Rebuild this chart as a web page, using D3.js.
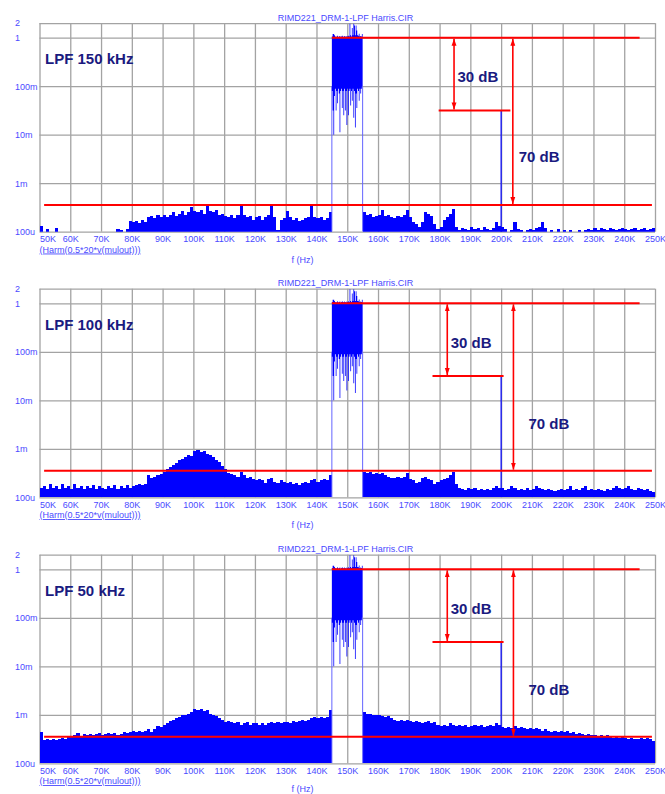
<!DOCTYPE html>
<html>
<head>
<meta charset="utf-8">
<script src="https://cdn.jsdelivr.net/npm/d3@7"></script>
<style>
body { margin: 0; background: #fff; }
text { font-family: "Liberation Sans", Arial, sans-serif; }
</style>
</head>
<body>
<script>
// ---- data (levels in dB re 1 V, frequencies in kHz) ----
var fileTitle = "RIMD221_DRM-1-LPF Harris.CIR";
var traceLabel = "(Harm(0.5*20*v(mulout)))";
var xTitle = "f (Hz)";
var panelNames = ["LPF 150 kHz", "LPF 100 kHz", "LPF 50 kHz"];

var freqTicks = [50,60,70,80,90,100,110,120,130,140,150,160,170,180,190,200,210,220,230,240,250];
var freqTickLabels = ["50K","60K","70K","80K","90K","100K","110K","120K","130K","140K","150K","160K","170K","180K","190K","200K","210K","220K","230K","240K","250K"];
var levelTicks = [2, 1, 0.1, 0.01, 0.001, 0.0001];
var levelTickLabels = ["2", "1", "100m", "10m", "1m", "100u"];

// noise floor, one value per 1 kHz bin: 50K..144K and 155K..249K
var lowStart = 50, highStart = 155;
var p1Low = [-77.5,-85,-79,-85,-85,-78.5,-85,-85,-85,-85,
  -85,-85,-85,-85,-85,-85,-85,-85,-85,-85,
  -85,-85,-85,-85,-85,-79,-79.5,-85,-79,-75.5,
  -76,-75.5,-76.5,-75,-76,-74,-73.5,-74.5,-73,-74,
  -73,-74,-73,-72,-73.5,-72.5,-71.5,-73,-72,-70,
  -71.5,-72,-71,-72.5,-69.5,-71.5,-72,-71,-73,-72.5,
  -73.5,-74,-73,-74.5,-73,-69,-73,-74,-73.5,-75,
  -74,-73.5,-75,-74,-73,-69.2,-74,-79.5,-75,-74.5,
  -71.5,-74,-75,-74.5,-75.5,-75,-74.5,-74,-69,-74,
  -74.5,-74,-75,-74.5,-72];
var p1High = [-72,-73,-72.5,-74,-73.5,
  -73,-71,-73.5,-73,-74,-74.5,-73.5,-74,-73,-71,
  -74,-76,-77,-78,-76,-72,-72.5,-73.5,-77,-79,
  -78,-75,-74,-72.5,-70.5,-78,-79.5,-78.5,-79,-79.5,
  -78,-79,-78.5,-79.5,-78,-79,-79.5,-78.5,-76,-77.5,
  -78,-79,-85,-79.5,-76,-79,-79.5,-85,-79.5,-79,
  -79.5,-78.5,-78,-76,-78.5,-85,-79.5,-85,-79,-85,
  -79.5,-85,-79.5,-85,-85,-79.5,-85,-79.5,-79,-79.5,
  -78.5,-79.5,-78.5,-79,-79.5,-78.5,-79,-79.5,-79,-78.5,
  -79,-79.5,-79,-78.5,-79.5,-79,-78.5,-79.5,-79,-78.5];
var p2Low = [-76,-75.5,-76.5,-74.5,-76,-75.5,-76.5,-74.5,-76,-75.5,
  -76.5,-74.5,-76,-75.5,-76.5,-75.5,-76,-75,-76.5,-75.5,
  -76,-76.5,-75.5,-76,-75,-76.5,-75.5,-76,-75,-76,
  -75.5,-75,-74.5,-75,-74.5,-71,-72,-71.5,-71,-70.5,
  -69.5,-68.5,-67.5,-66.5,-66,-64.5,-64,-63.5,-62.5,-63,
  -61,-60.5,-61.5,-61,-62,-62.5,-63.5,-64.5,-65.5,-67,
  -68.5,-70,-70.5,-71,-71.5,-69.5,-71,-72,-71.5,-72.5,
  -73,-72.5,-73,-74,-72.5,-72,-73.5,-74,-73,-73.5,
  -74,-73.5,-74.5,-74,-75,-74,-73.5,-74,-73,-72.5,
  -73.5,-73,-72.5,-73,-71];
var p2High = [-69.5,-70,-69.5,-70.5,-70,
  -70.5,-70,-71,-71.5,-72,-72,-71.5,-72,-71.5,-70,
  -72.5,-73,-74,-73.5,-72,-71.5,-72.5,-73,-74.5,-73.5,
  -73,-72.5,-72,-71,-69.5,-74.5,-76,-76.5,-77,-76,
  -76.5,-76,-77,-76.5,-77,-76.5,-77,-76,-75.5,-76,
  -76,-77,-76.5,-75.5,-76,-77,-76.5,-77,-76,-77,
  -76.5,-75.5,-76,-76.5,-77,-76.5,-77,-77.5,-77,-76.5,
  -77,-76.5,-75.5,-77,-76.5,-77,-76,-75.5,-77,-76.5,
  -77,-76.5,-77,-77.5,-76.5,-77,-76,-75.5,-76,-76.5,
  -76,-75.5,-76.5,-77,-76,-76.5,-77,-76.5,-77.5,-78];
var p3Low = [-67,-70.5,-70,-70.5,-70,-70.5,-70,-69.5,-70,-69,
  -69,-68.5,-67.5,-69,-68,-68.5,-68,-68.5,-68,-67.5,
  -68.5,-68,-67.5,-68,-67.5,-68.5,-68,-67,-67.5,-67,
  -66.5,-67,-66.5,-67,-66.5,-66,-67,-66,-64.5,-65,
  -64,-63.5,-62.5,-62,-61.5,-61,-60,-60,-59.5,-59,
  -57.5,-58,-57.5,-58.5,-58,-59.5,-60,-60.5,-61.5,-62,
  -63,-62.5,-63,-63.5,-63,-64,-63.5,-63,-64,-63.5,
  -63.5,-64,-63.5,-64,-63.5,-63,-63.5,-63,-63.5,-63,
  -63,-63.5,-62.5,-63,-62.5,-62,-62.5,-62,-61.5,-61,
  -61.5,-61,-61.5,-61,-58];
var p3High = [-59,-59.5,-59.5,-60,-60,
  -60,-60.5,-61,-60.5,-61.5,-62,-62.5,-62,-62.5,-62,
  -62.5,-63,-62.5,-63,-63.5,-63,-62.5,-63.5,-63,-64,
  -64.5,-64,-64.5,-63.5,-64,-64.5,-64,-64.5,-64,-65,
  -64.5,-64,-64.5,-64,-65,-64.5,-64,-64.5,-63.5,-64,
  -65,-65.5,-65,-65.5,-64.5,-65.5,-65,-65.5,-66,-65.5,
  -66,-65.5,-66,-66.5,-66,-66.5,-67,-66.5,-67,-66.5,
  -67,-66.5,-67.5,-67,-68,-67.5,-68,-68.5,-68,-68.5,
  -68.5,-69,-68.5,-69,-68.5,-69,-69.5,-69,-69.5,-69,
  -69.5,-70,-69.5,-70,-70,-69.5,-70,-69.5,-70,-71];
var noiseLow = [p1Low, p2Low, p3Low];
var noiseHigh = [p1High, p2High, p3High];

// DRM block 145K..155K, 0.25 kHz bins: upper and lower envelope
var blockStart = 145, blockStep = 0.25;
var blockHi = [0.5,1.5,1.5,1,0.5,0,0.5,0.8,0.2,0.5,0.7,0.1,0.5,0.8,0.5,0.3,0.7,0.5,0.2,0.7,
  0.5,0.8,0.5,5.8,1,0.5,4,1,5.8,5,1,5,3,1,0.8,1.6,0.5,0.7,0.5,1.5];
var blockLo = [-22,-30,-40,-24,-21,-30,-22,-27,-21,-23,-39,-22,-21,-29,-22,-32,-21,-30,-22,-36,
  -21,-32,-22,-21,-28,-22,-26,-21,-33,-22,-37,-23,-29,-21,-22,-26,-21,-23,-21,-20];
var blockEdges = [145, 155];

// single tone at 200K
var toneFreq = 200;
var toneDb = [-30, -30, -30];

// red reference annotations
var refTopDb = 0, refFloorDb = -69, refToneDb = -30;
var refTopSpan = [145, 245];
var refFloorSpan = [51.5, 249];
var arrow30At = [184.7, 182.5, 182.5];
var toneRefSpan = [[179.7, 203], [177.7, 200.8], [177.7, 200.8]];
var arrow70At = [203.8, 204, 204];
var label30 = "30 dB", label70 = "70 dB";
var label30At = [[185.8, -16], [183.6, -16], [183.6, -16]];
var label70At = [[205.7, -49], [208.9, -49.5], [208.9, -49.5]];
var nameAt = [51.8, -8.8];

// ---- layout ----
var W = 665, H = 794;
var left = 39.5, right = 655;
var bottoms = [231.7, 497.3, 763.3];
var decadePx = 48.5;
var blue = "#0000ff", red = "#ff0000", labelBlue = "#4a4aff", navy = "#1a1a80";

function dbv(d) { return Math.pow(10, d / 20); }

var svg = d3.select("body").append("svg")
  .attr("width", W)
  .attr("height", H)
  .style("display", "block");

var defs = svg.append("defs");
defs.append("marker")
  .attr("id", "ah")
  .attr("viewBox", "0 0 10 10")
  .attr("refX", 10)
  .attr("refY", 5)
  .attr("markerWidth", 7)
  .attr("markerHeight", 7)
  .attr("markerUnits", "userSpaceOnUse")
  .attr("orient", "auto-start-reverse")
  .append("path")
  .attr("d", "M0,1.5 L10,5 L0,8.5 Z")
  .attr("fill", red);

var x = d3.scaleLinear().domain([50, 250]).range([left, right]);

bottoms.forEach(function (bottom, i) {
  var top = bottom - Math.log10(2 / 1e-4) * decadePx;
  var y = d3.scaleLog().domain([1e-4, 2]).range([bottom, top]);
  var g = svg.append("g");

  defs.append("clipPath").attr("id", "clip" + i)
    .append("rect")
    .attr("x", left).attr("y", top)
    .attr("width", right - left).attr("height", bottom - top);

  // title
  g.append("text")
    .attr("x", 345.5)
    .attr("y", top - 2.6)
    .attr("text-anchor", "middle")
    .style("font-size", "9px")
    .attr("fill", labelBlue)
    .text(fileTitle);

  // x grid + labels
  var xg = g.append("g")
    .attr("transform", "translate(0," + bottom + ")")
    .call(d3.axisBottom(x)
      .tickValues(freqTicks)
      .tickSize(-(bottom - top))
      .tickPadding(4)
      .tickFormat(function (d, j) { return freqTickLabels[j]; }));
  xg.select(".domain").remove();
  xg.selectAll("line").attr("stroke", "#a3a3a3").attr("stroke-width", 1.3);
  xg.selectAll("text").attr("fill", labelBlue).style("font-size", "9px").style("font-family", "Liberation Sans, Arial, sans-serif");
  xg.selectAll("text").filter(function (d) { return d === 50; }).attr("text-anchor", "start");

  // y grid + labels
  var yg = g.append("g")
    .attr("transform", "translate(" + left + ",0)")
    .call(d3.axisLeft(y)
      .tickValues(levelTicks)
      .tickSize(-(right - left))
      .tickFormat(function (d, j) { return levelTickLabels[j]; }));
  yg.select(".domain").remove();
  yg.selectAll("line").attr("stroke", "#a3a3a3").attr("stroke-width", 1.3);
  yg.selectAll("text")
    .attr("x", 15 - left)
    .attr("text-anchor", "start")
    .attr("fill", labelBlue)
    .style("font-size", "9px")
    .style("font-family", "Liberation Sans, Arial, sans-serif");

  // trace label + axis title
  g.append("text")
    .attr("x", left)
    .attr("y", bottom + 20.8)
    .style("font-size", "9px")
    .style("text-decoration", "underline")
    .attr("fill", labelBlue)
    .text(traceLabel);
  g.append("text")
    .attr("x", 302.5)
    .attr("y", Math.min(bottom + 30.8, H - 2))
    .attr("text-anchor", "middle")
    .style("font-size", "9px")
    .attr("fill", labelBlue)
    .text(xTitle);

  var plot = g.append("g").attr("clip-path", "url(#clip" + i + ")");

  // noise floor bars
  var bins = noiseLow[i].map(function (d, k) { return { f: lowStart + k, db: d }; })
    .concat(noiseHigh[i].map(function (d, k) { return { f: highStart + k, db: d }; }))
    .filter(function (d) { return d.db > -80; });
  plot.selectAll("rect.noise")
    .data(bins)
    .enter()
    .append("rect")
    .attr("class", "noise")
    .attr("x", function (d) { return x(d.f); })
    .attr("width", function (d) { return x(d.f + 1) - x(d.f); })
    .attr("y", function (d) { return y(dbv(d.db)); })
    .attr("height", function (d) { return bottom - y(dbv(d.db)); })
    .attr("fill", blue)
    .attr("shape-rendering", "crispEdges");

  // block edge transitions
  plot.selectAll("line.edge")
    .data(blockEdges)
    .enter()
    .append("line")
    .attr("x1", function (d) { return x(d); })
    .attr("x2", function (d) { return x(d); })
    .attr("y1", bottom)
    .attr("y2", y(dbv(-20)))
    .attr("stroke", "#6464ff")
    .attr("stroke-width", 1);

  // DRM block as one stepped band between lower and upper envelope
  var blockPts = blockHi.map(function (h, k) { return { f: blockStart + k * blockStep, hi: h, lo: blockLo[k] }; });
  blockPts.push({ f: blockStart + blockHi.length * blockStep, hi: blockHi[blockHi.length - 1], lo: blockLo[blockLo.length - 1] });
  var band = d3.area()
    .curve(d3.curveStepAfter)
    .x(function (d) { return x(d.f); })
    .y0(function (d) { return y(dbv(d.lo)); })
    .y1(function (d) { return y(dbv(d.hi)); });
  plot.append("path")
    .datum(blockPts)
    .attr("d", band)
    .attr("fill", blue);

  // tone at 200K
  plot.append("line")
    .attr("x1", x(toneFreq)).attr("x2", x(toneFreq))
    .attr("y1", bottom).attr("y2", y(dbv(toneDb[i])))
    .attr("stroke", blue)
    .attr("stroke-width", 1.2);

  // red reference lines
  var ref = g.append("g").attr("stroke", red).attr("fill", "none");
  ref.append("line")
    .attr("x1", x(refTopSpan[0])).attr("x2", x(refTopSpan[1]))
    .attr("y1", y(dbv(refTopDb))).attr("y2", y(dbv(refTopDb)))
    .attr("stroke-width", 2);
  ref.append("line")
    .attr("x1", x(refFloorSpan[0])).attr("x2", x(refFloorSpan[1]))
    .attr("y1", y(dbv(refFloorDb))).attr("y2", y(dbv(refFloorDb)))
    .attr("stroke-width", 2);
  ref.append("line")
    .attr("x1", x(toneRefSpan[i][0])).attr("x2", x(toneRefSpan[i][1]))
    .attr("y1", y(dbv(refToneDb))).attr("y2", y(dbv(refToneDb)))
    .attr("stroke-width", 2);
  ref.append("line")
    .attr("x1", x(arrow30At[i])).attr("x2", x(arrow30At[i]))
    .attr("y1", y(dbv(refTopDb)) + 1).attr("y2", y(dbv(refToneDb)) - 1)
    .attr("stroke-width", 1.6)
    .attr("marker-start", "url(#ah)")
    .attr("marker-end", "url(#ah)");
  ref.append("line")
    .attr("x1", x(arrow70At[i])).attr("x2", x(arrow70At[i]))
    .attr("y1", y(dbv(refTopDb)) + 1).attr("y2", y(dbv(refFloorDb)) - 1)
    .attr("stroke-width", 1.6)
    .attr("marker-start", "url(#ah)")
    .attr("marker-end", "url(#ah)");

  // bold annotations
  function boldText(pos, txt) {
    g.append("text")
      .attr("x", x(pos[0]))
      .attr("y", y(dbv(pos[1])))
      .attr("dy", "0.36em")
      .style("font-size", "15px")
      .style("font-weight", "bold")
      .attr("fill", navy)
      .text(txt);
  }
  boldText(nameAt, panelNames[i]);
  boldText(label30At[i], label30);
  boldText(label70At[i], label70);
});
</script>
</body>
</html>
